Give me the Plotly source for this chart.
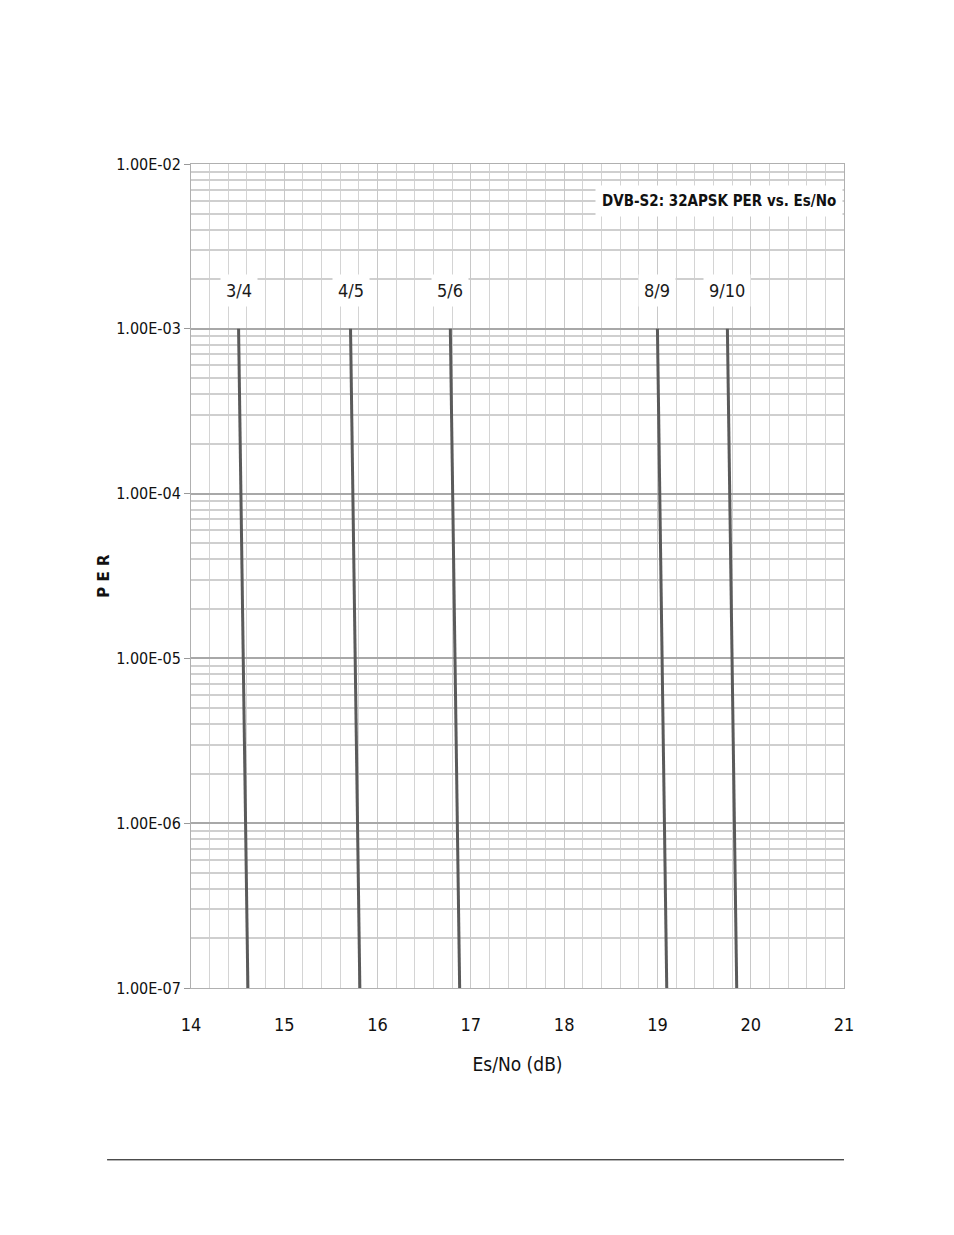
import math
import plotly.graph_objects as go

# Code rates and their Es/No (dB) where PER = 1e-3 (top) and 1e-7 (bottom)
rates = ['3/4', '4/5', '5/6', '8/9', '9/10']
esno_top = [14.51, 15.71, 16.78, 19.00, 19.75]
esno_bottom = [14.61, 15.81, 16.88, 19.10, 19.85]
per_top = 1e-3
per_bottom = 1e-7

x_ticks = [14, 15, 16, 17, 18, 19, 20, 21]
y_ticks = [1e-7, 1e-6, 1e-5, 1e-4, 1e-3, 1e-2]
y_labels = ['1.00E-07', '1.00E-06', '1.00E-05', '1.00E-04', '1.00E-03', '1.00E-02']
y_minor = [m * 10.0 ** e for e in range(-7, -2) for m in range(2, 10)]

FONT = 'DejaVu Sans Condensed, Liberation Sans Narrow, Arial Narrow, sans-serif'

fig = go.Figure()

for r, xt, xb in zip(rates, esno_top, esno_bottom):
    fig.add_trace(go.Scatter(x=[xt, xb], y=[per_top, per_bottom], mode='lines', name=r,
                             line=dict(color='#5a5a5a', width=3), showlegend=False))
    # annotations on a log axis take log10 of the value
    fig.add_annotation(x=xt, y=math.log10(per_top), xref='x', yref='y', text=r, showarrow=False,
                       yshift=38, bgcolor='white', borderpad=5,
                       font=dict(family=FONT, size=18, color='#1a1a1a'))

fig.add_annotation(x=0.998, y=0.955, xref='paper', yref='paper', xanchor='right', yanchor='middle',
                   text='DVB-S2: 32APSK PER vs. Es/No', showarrow=False, bgcolor='white', borderpad=6,
                   font=dict(family=FONT, size=15, color='#111', weight='bold'))

# footer rule
fig.add_shape(type='line', xref='paper', yref='paper', x0=-0.1285, x1=1.0, y0=-0.2085, y1=-0.2085,
              line=dict(color='black', width=1))

fig.update_layout(
    width=938, height=1219,
    margin=dict(l=183, r=102, t=156, b=239),
    plot_bgcolor='white', paper_bgcolor='white',
    showlegend=False,
)

fig.update_xaxes(
    range=[14, 21], tickvals=x_ticks, ticktext=[str(v) for v in x_ticks],
    tickfont=dict(family=FONT, size=18, color='#111'), ticks='', ticklabelstandoff=20,
    showgrid=True, gridcolor='#c8c8c8', gridwidth=1,
    minor=dict(dtick=0.2, showgrid=True, gridcolor='#d4d4d4', gridwidth=1),
    showline=True, linecolor='#b0b0b0', linewidth=1, mirror=True,
    title=dict(text='Es/No (dB)', font=dict(family=FONT, size=19, color='#111'), standoff=24),
    zeroline=False,
)

fig.update_yaxes(
    type='log', range=[-7, -2], tickvals=y_ticks, ticktext=y_labels,
    tickfont=dict(family=FONT, size=16, color='#111'), ticks='outside', ticklen=6, tickcolor='#999',
    showgrid=True, gridcolor='#a8a8a8', gridwidth=2,
    minor=dict(tickvals=y_minor, showgrid=True, gridcolor='#cfcfcf', gridwidth=2),
    showline=True, linecolor='#b0b0b0', linewidth=1, mirror=True,
    title=dict(text='<b>P E R</b>', font=dict(family='DejaVu Sans', size=15, color='#111'), standoff=2),
    zeroline=False,
)

fig.write_html("out.html")
